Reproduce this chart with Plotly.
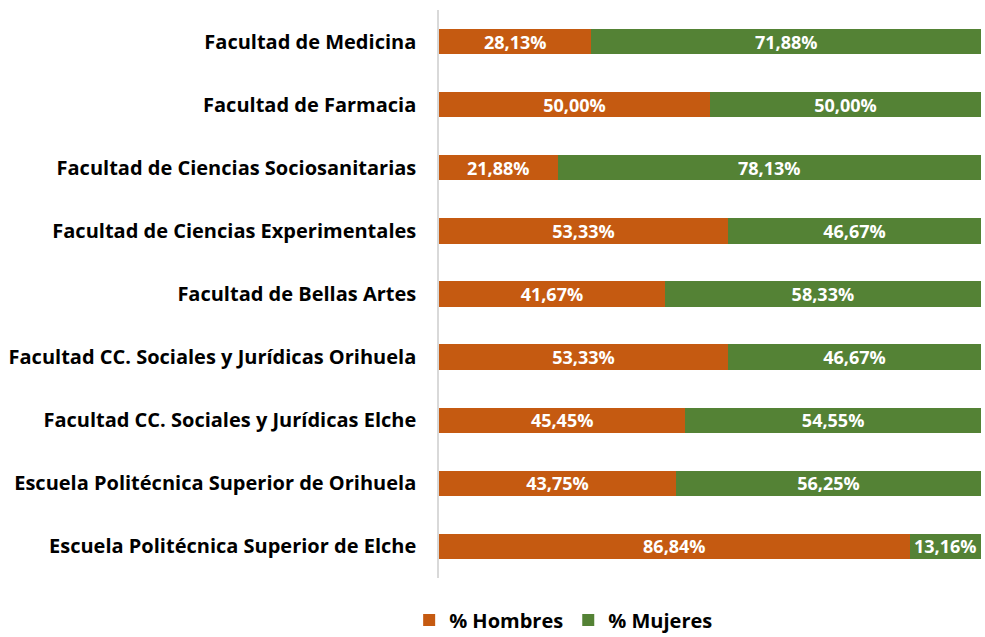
import plotly.graph_objects as go

categories = [
    "Facultad de Medicina",
    "Facultad de Farmacia",
    "Facultad de Ciencias Sociosanitarias",
    "Facultad de Ciencias Experimentales",
    "Facultad de Bellas Artes",
    "Facultad CC. Sociales y Jurídicas Orihuela",
    "Facultad CC. Sociales y Jurídicas Elche",
    "Escuela Politécnica Superior de Orihuela",
    "Escuela Politécnica Superior de Elche",
]
hombres = [28.13, 50.00, 21.88, 53.33, 41.67, 53.33, 45.45, 43.75, 86.84]
mujeres = [71.88, 50.00, 78.13, 46.67, 58.33, 46.67, 54.55, 56.25, 13.16]

def fmt(v):
    return f"{v:.2f}".replace(".", ",") + "%"

FONT = "'Open Sans', sans-serif"

fig = go.Figure()
fig.add_trace(go.Bar(
    y=categories, x=hombres, name="% Hombres", orientation="h",
    marker=dict(color="#C55A11", line=dict(width=0)),
    text=[fmt(v) for v in hombres], textposition="inside",
    insidetextanchor="middle", constraintext="none",
    textfont=dict(color="white", size=18, family=FONT, weight="bold"),
))
fig.add_trace(go.Bar(
    y=categories, x=mujeres, name="% Mujeres", orientation="h",
    marker=dict(color="#548235", line=dict(width=0)),
    text=[fmt(v) for v in mujeres], textposition="inside",
    insidetextanchor="middle", constraintext="none",
    textfont=dict(color="white", size=18, family=FONT, weight="bold"),
))

fig.update_layout(
    barmode="stack",
    bargap=0.6,
    width=985, height=637,
    margin=dict(l=439, r=4, t=10, b=59, autoexpand=False),
    plot_bgcolor="white", paper_bgcolor="white",
    font=dict(family=FONT, size=20, color="black"),
    showlegend=True,
    legend=dict(orientation="h", x=0.23, xanchor="center",
                y=-0.074, yanchor="middle",
                font=dict(size=20, family=FONT, weight="bold"), traceorder="normal",
                itemwidth=30),
    xaxis=dict(range=[0, 100.01], visible=False, showgrid=False),
    yaxis=dict(autorange="reversed", showline=True, linecolor="#D9D9D9", linewidth=1.5,
               ticks="", ticklen=0, tickfont=dict(size=20, family=FONT, weight="bold"),
               ticklabelstandoff=17, showgrid=False),
)

fig.write_html("out.html", config={"displayModeBar": False},
               post_script="document.body.style.margin='0px';")
